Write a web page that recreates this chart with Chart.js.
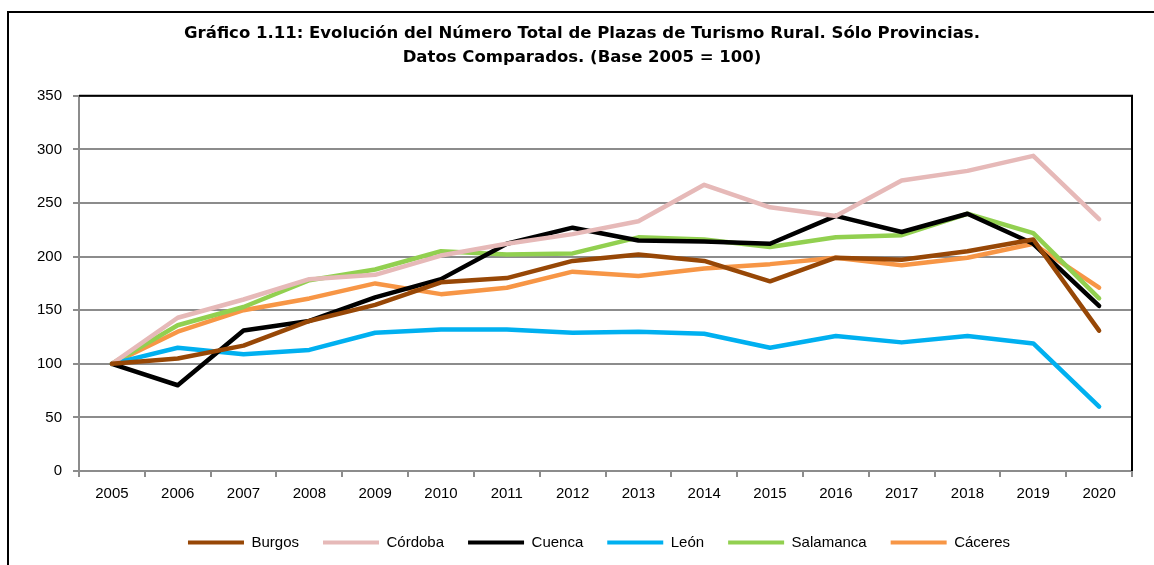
<!DOCTYPE html>
<html>
<head>
<meta charset="utf-8">
<script src="https://cdn.jsdelivr.net/npm/chart.js@4/dist/chart.umd.min.js"></script>
<style>
  html, body { margin: 0; padding: 0; background: #fff; overflow: hidden; }
  #wrap { width: 1154px; height: 565px; position: relative; }
</style>
</head>
<body>
<div id="wrap"><canvas id="chart"></canvas></div>
<script>
// años y series (índice base 2005 = 100)
const years = ["2005","2006","2007","2008","2009","2010","2011","2012","2013","2014","2015","2016","2017","2018","2019","2020"];

const burgos    = [100, 105, 117, 140, 155, 176, 180, 196, 202, 196, 177, 199, 197, 205, 216, 131];
const cordoba   = [100, 143, 160, 179, 183, 201, 212, 221, 233, 267, 246, 238, 271, 280, 294, 235];
const cuenca    = [100,  80, 131, 140, 162, 179, 212, 227, 215, 214, 212, 238, 223, 240, 212, 154];
const leon      = [100, 115, 109, 113, 129, 132, 132, 129, 130, 128, 115, 126, 120, 126, 119,  60];
const salamanca = [100, 136, 153, 178, 188, 205, 202, 203, 218, 216, 209, 218, 220, 240, 222, 161];
const caceres   = [100, 130, 150, 161, 175, 165, 171, 186, 182, 189, 193, 199, 192, 199, 212, 171];

const yTicks = [0, 50, 100, 150, 200, 250, 300, 350];

const seriesNames = ["Burgos", "Córdoba", "Cuenca", "León", "Salamanca", "Cáceres"];
const seriesData = [burgos, cordoba, cuenca, leon, salamanca, caceres];
const seriesColors = ["#974706", "#e6b9b8", "#000000", "#00b0f0", "#92d050", "#f79646"];

const sans = "'Liberation Sans', Arial, sans-serif";

const datasets = seriesNames.map((name, i) => ({
  label: name,
  data: seriesData[i],
  borderColor: seriesColors[i],
  backgroundColor: seriesColors[i],
  borderWidth: 4.5,
  pointRadius: 0,
  tension: 0,
  fill: false,
  borderJoinStyle: "round",
  borderCapStyle: "round"
}));

// marco exterior, bordes negros arriba/derecha, y pequeño desplazamiento de título y leyenda
const framePlugin = {
  id: "frame",
  afterLayout(chart) {
    if (chart.titleBlock) { chart.titleBlock.left += 11; chart.titleBlock.right += 11; }
    if (chart.legend) { chart.legend.left += 28; chart.legend.right += 28; }
  },
  afterDraw(chart) {
    const ctx = chart.ctx;
    const a = chart.chartArea;
    ctx.save();
    ctx.strokeStyle = "#000";
    ctx.lineWidth = 2;
    ctx.beginPath();
    ctx.moveTo(a.left, a.top);
    ctx.lineTo(a.right, a.top);
    ctx.lineTo(a.right, a.bottom);
    ctx.stroke();
    ctx.strokeRect(8, 12, 1160, 570);
    ctx.restore();
  }
};

Chart.defaults.font.family = sans;
Chart.defaults.color = "#000";

new Chart(document.getElementById("chart"), {
  type: "line",
  data: { labels: years, datasets: datasets },
  plugins: [framePlugin],
  options: {
    responsive: true,
    maintainAspectRatio: false,
    animation: false,
    layout: { padding: { left: 10, right: 22, top: 22, bottom: 5 } },
    plugins: {
      title: {
        display: true,
        text: ["Gráfico 1.11: Evolución del Número Total de Plazas de Turismo Rural. Sólo Provincias.",
               "Datos Comparados. (Base 2005 = 100)"],
        font: { family: "'DejaVu Sans', Verdana, sans-serif", size: 16.5, weight: "bold", lineHeight: 1.45 },
        color: "#000",
        padding: { top: 0, bottom: 26 }
      },
      legend: {
        position: "bottom",
        labels: {
          boxWidth: 56,
          boxHeight: 4,
          padding: 24,
          font: { family: sans, size: 15 },
          color: "#000",
          generateLabels(chart) {
            return Chart.defaults.plugins.legend.labels.generateLabels(chart)
              .map(l => Object.assign(l, { lineWidth: 0 }));
          }
        }
      },
      tooltip: { enabled: false }
    },
    scales: {
      x: {
        offset: true,
        grid: { offset: true, drawOnChartArea: false, color: "#8c8c8c", lineWidth: 2, tickLength: 6 },
        border: { display: true, color: "#8c8c8c", width: 2 },
        ticks: { font: { family: sans, size: 15 }, color: "#000", padding: 8, maxRotation: 0 }
      },
      y: {
        min: 0,
        max: 350,
        afterBuildTicks(scale) { scale.ticks = yTicks.map(v => ({ value: v })); },
        afterFit(scale) { scale.width = 69; },
        grid: { color: "#8c8c8c", lineWidth: 2, tickLength: 6 },
        border: { display: true, color: "#8c8c8c", width: 2 },
        ticks: { font: { family: sans, size: 15 }, color: "#000", padding: 11 }
      }
    }
  }
});
</script>
</body>
</html>
